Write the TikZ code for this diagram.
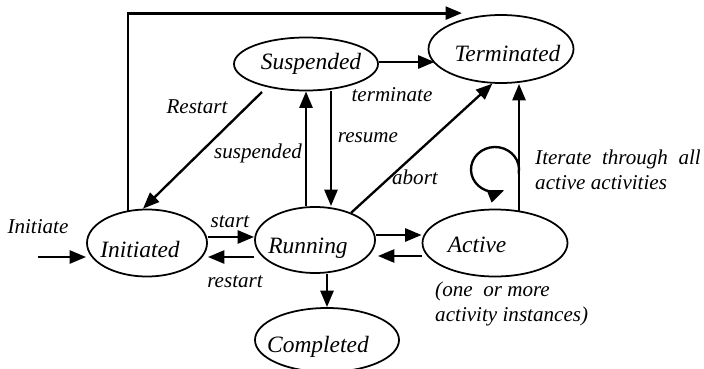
\documentclass[tikz,border=0pt]{standalone}
\usepackage{fontspec}
\setmainfont{Liberation Serif}
\usetikzlibrary{shapes.geometric,arrows.meta,calc}
% state name placed with a horizontal and a baseline offset from the node centre
\newcommand\stext[3]{\raisebox{#2}[0pt][0pt]{\makebox[0pt][l]{\kern#1\makebox[0pt]{#3}}}}
\begin{document}
\begin{tikzpicture}[x=0.03cm,y=-0.03cm,
  state/.style={ellipse,draw,line width=1.5pt,inner sep=0pt,
    font=\fontsize{20}{24}\selectfont\itshape},
  lbl/.style={font=\fontsize{18}{21}\selectfont\itshape,inner sep=0pt},
  arr/.style={line width=2.4pt,-{Triangle[length=14pt,width=11pt]}},
  thinarr/.style={arr,line width=2pt},
]
\useasboundingbox (0,0) rectangle (704,369);

% states
\node[state,minimum width=4.32cm,minimum height=1.59cm] (susp) at (306,64) {\stext{4.3pt}{-4.3pt}{Suspended}};
\node[state,minimum width=4.35cm,minimum height=2.04cm] (term) at (501,49) {\stext{5.5pt}{-11pt}{Terminated}};
\node[state,minimum width=3.6cm,minimum height=2.01cm] (init) at (147,243) {\stext{-6pt}{-12.8pt}{Initiated}};
\node[state,minimum width=3.6cm,minimum height=1.98cm] (run) at (315,240) {\stext{-6pt}{-11.9pt}{Running}};
\node[state,minimum width=4.35cm,minimum height=2.01cm] (act) at (495,243) {\stext{-15.3pt}{-8.5pt}{Active}};
\node[state,minimum width=4.32cm,minimum height=1.92cm] (comp) at (327,340) {\stext{-7.7pt}{-11pt}{Completed}};

% entry point and loop centre
\coordinate (inistart) at ($(init.west)+(-48,14)$);
\coordinate (loopc) at ($(act.center)+(0,-73.5)$);

% transitions
\draw[arr] (inistart) -- ($(init.west)+(0,14)$);
\draw[arr] ($(init.east)+(0,-6)$) -- ($(run.west)+(0,-3)$);
\draw[arr] ($(run.west)+(0,17)$) -- ($(init.east)+(0,14)$);
\draw[arr] ($(run.east)+(0,-5)$) -- ($(act.west)+(0,-8)$);
\draw[arr] ($(act.west)+(0,13)$) -- ($(run.east)+(2,16)$);
\draw[arr] (run.south -| comp.north) -- (comp.north);
\draw[arr] (run.north -| susp.south) -- (susp.south);
\draw[arr] ($(susp.south)+(25,0)$) -- ($(run.north)+(16,0)$);
\draw[arr] ($(susp.east)+(0,-2)$) -- ($(term.west)+(7,13)$);
\draw[thinarr] (run.37) -- (term.256);
\draw[thinarr] ($(susp.center)+(-44,28)$) -- ($(init.north)+(-4,0)$);
\draw[arr] ($(init.center)+(-19,-32)$) |- ($(term.north)+(-39,-1)$);
\draw[arr] ($(act.north)+(24,2)$) -- ($(term.south)+(18,0)$);
\draw[thinarr] ($(loopc)+(10:24 and 22.5)$)
  arc[start angle=10,end angle=-293,x radius=24,y radius=22.5];

% labels
\node[lbl] (linit) at (38,227) {Initiate};
\node[lbl] (lstart) at (230,222) {start};
\node[lbl] (lrestart) at (235,282) {restart};
\node[lbl] (lRestart) at (197,107) {Restart};
\node[lbl] (lsusp) at (258,153) {suspended};
\node[lbl] (lterm) at (392,95) {terminate};
\node[lbl] (lresume) at (368,138) {resume};
\node[lbl] (labort) at (415,177) {abort};
\node[lbl,anchor=west,align=left] (liter) at (535,169.5)
  {Iterate\hspace{0.5em}through\hspace{0.5em}all\\active activities};
\node[lbl,anchor=west,align=left] (lact) at (435,304)
  {(one\hspace{0.5em}or more\\activity instances)};
\end{tikzpicture}
\end{document}
